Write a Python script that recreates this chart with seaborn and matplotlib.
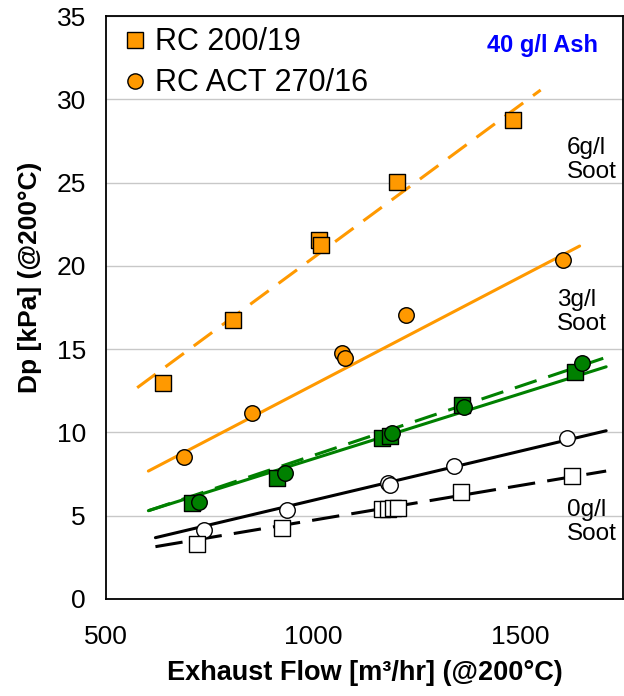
import numpy as np
import pandas as pd
import matplotlib
matplotlib.use("Agg")
import matplotlib.pyplot as plt
import seaborn as sns
from matplotlib.lines import Line2D

# ---------------- data ----------------
# 6 g/l soot (orange)
rc200_6_x = [638, 805, 1014, 1019, 1202, 1481]
rc200_6_y = [12.97, 16.75, 21.55, 21.25, 25.03, 28.75]
act_6_x = [687, 853, 1070, 1077, 1224, 1602]
act_6_y = [8.52, 11.16, 14.77, 14.47, 17.05, 20.35]
# 3 g/l soot (green)
rc200_3_x = [708, 913, 1166, 1185, 1359, 1631]
rc200_3_y = [5.76, 7.26, 9.66, 9.78, 11.64, 13.63]
act_3_x = [723, 932, 1190, 1364, 1648]
act_3_y = [5.82, 7.56, 9.96, 11.52, 14.17]
# 0 g/l soot (open)
act_0_x = [735, 937, 1180, 1185, 1339, 1611]
act_0_y = [4.14, 5.34, 6.96, 6.84, 7.98, 9.66]
rc200_0_x = [720, 925, 1165, 1180, 1193, 1205, 1356, 1624]
rc200_0_y = [3.30, 4.26, 5.40, 5.42, 5.44, 5.45, 6.42, 7.38]

# trend lines: slope, intercept, x-range
trend_names = ["rc200_6", "act_6", "rc200_3", "act_3", "act_0", "rc200_0"]
trend_slope = [0.01837, 0.01299, 0.008342, 0.007826, 0.005906, 0.004177]
trend_icept = [2.12, -0.14, 0.278, 0.589, 0.024, 0.555]
trend_xmin = [575, 602, 602, 602, 619, 619]
trend_xmax = [1548, 1642, 1706, 1706, 1706, 1706]

legend_labels = ["RC 200/19", "RC ACT 270/16"]
x_ticks = [500, 1000, 1500]
y_ticks = [0, 5, 10, 15, 20, 25, 30, 35]

# ---------------- style ----------------
sns.set_theme(style="white")
plt.rcParams["font.family"] = ["Liberation Sans", "DejaVu Sans"]
plt.rcParams["text.color"] = "black"
plt.rcParams["axes.labelcolor"] = "black"
plt.rcParams["xtick.color"] = "black"
plt.rcParams["ytick.color"] = "black"

ORANGE = "#FF9900"
GREEN = "#008000"
BLACK = "#000000"

fig = plt.figure(figsize=(6.24, 6.96), dpi=100)
ax = fig.add_axes([0.170, 0.1394, 0.828, 0.8376])

line_styles = {
    "rc200_6": dict(color=ORANGE, linestyle=(0, (7.5, 4))),
    "act_6": dict(color=ORANGE, linestyle="-"),
    "rc200_3": dict(color=GREEN, linestyle=(0, (7.5, 4))),
    "act_3": dict(color=GREEN, linestyle="-"),
    "act_0": dict(color=BLACK, linestyle="-"),
    "rc200_0": dict(color=BLACK, linestyle=(0, (9, 4))),
}

for name, m, b, x0, x1 in zip(trend_names, trend_slope, trend_icept, trend_xmin, trend_xmax):
    xs = np.array([x0, x1], dtype=float)
    df = pd.DataFrame({"x": xs, "y": m * xs + b})
    sns.lineplot(data=df, x="x", y="y", ax=ax, lw=2.2, zorder=2, **line_styles[name])

def pts(x, y, marker, face, size):
    sns.scatterplot(x=x, y=y, ax=ax, marker=marker, s=size, color=face,
                    edgecolor="black", linewidth=1.0, zorder=3)

pts(rc200_6_x, rc200_6_y, "s", ORANGE, 120)
pts(act_6_x, act_6_y, "o", ORANGE, 125)
pts(rc200_3_x, rc200_3_y, "s", GREEN, 120)
pts(act_3_x, act_3_y, "o", GREEN, 125)
pts(act_0_x, act_0_y, "o", "white", 125)
pts(rc200_0_x, rc200_0_y, "s", "white", 120)

ax.set_xlim(500, 1746)
ax.set_ylim(0, 35)
ax.set_xticks(x_ticks)
ax.set_yticks(y_ticks)
ax.yaxis.grid(True, color="#c8c8c8", lw=1.0)
ax.xaxis.grid(False)
ax.set_axisbelow(True)
for sp in ax.spines.values():
    sp.set_color("black")
    sp.set_linewidth(1.3)
ax.tick_params(axis="both", direction="out", length=6.5, width=1.0,
               colors="black", labelsize=19)
ax.tick_params(axis="y", pad=8)
ax.tick_params(axis="x", pad=12)

ax.set_xlabel("Exhaust Flow [m³/hr] (@200°C)", fontsize=19.5, fontweight="bold",
              labelpad=8.5)
ax.set_ylabel("Dp [kPa] (@200°C)", fontsize=19, fontweight="bold")
ax.yaxis.set_label_coords(-0.124, 0.551)

handles = [
    Line2D([], [], marker="s", ls="none", markerfacecolor=ORANGE,
           markeredgecolor="black", markersize=11, markeredgewidth=1.0),
    Line2D([], [], marker="o", ls="none", markerfacecolor=ORANGE,
           markeredgecolor="black", markersize=11, markeredgewidth=1.0),
]
ax.legend(handles, legend_labels, loc="upper left", frameon=False, fontsize=22,
          handlelength=0.7, handletextpad=0.3, labelspacing=0.36,
          borderaxespad=0.2, bbox_to_anchor=(0.0, 1.012))

ax.text(0.952, 0.950, "40 g/l Ash", transform=ax.transAxes, ha="right",
        va="center", color="#0000FF", fontsize=17, fontweight="bold")
ax.text(0.892, 0.753, "6g/l\nSoot", transform=ax.transAxes, ha="left",
        va="center", fontsize=17.5, linespacing=1.15)
ax.text(0.872, 0.492, "3g/l\nSoot", transform=ax.transAxes, ha="left",
        va="center", fontsize=17.5, linespacing=1.15)
ax.text(0.892, 0.132, "0g/l\nSoot", transform=ax.transAxes, ha="left",
        va="center", fontsize=17.5, linespacing=1.15)

fig.savefig("out.png", dpi=100)
